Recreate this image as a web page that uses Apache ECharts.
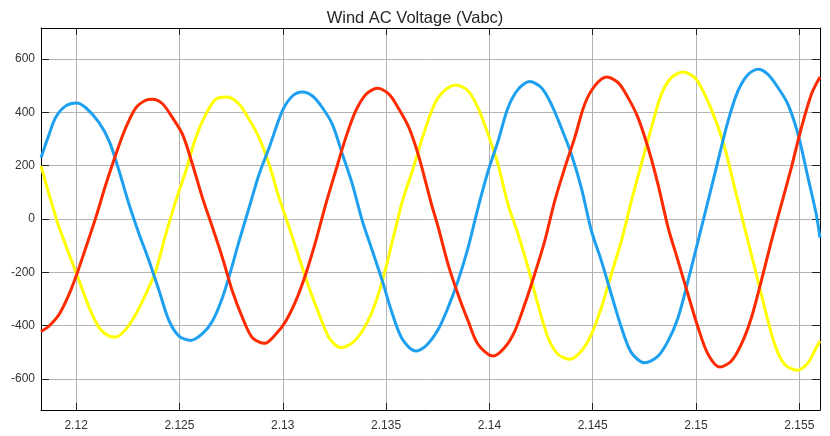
<!DOCTYPE html>
<html>
<head>
<meta charset="utf-8">
<script src="https://cdn.jsdelivr.net/npm/echarts@6/dist/echarts.min.js"></script>
<style>html,body{margin:0;padding:0;background:#fff}#c{width:830px;height:436px}</style>
</head>
<body>
<div id="c"></div>
<script>
const titleText = 'Wind AC Voltage (Vabc)';
const xTicks = [2.12, 2.125, 2.13, 2.135, 2.14, 2.145, 2.15, 2.155];
const yTicks = [-600, -400, -200, 0, 200, 400, 600];

const blueT = [2.1183,2.11869,2.11902,2.1195,2.12,2.12047,2.12111,2.1216,2.12208,2.12256,2.12305,2.12353,2.12402,2.1245,2.12498,2.12555,2.12611,2.1266,2.12708,2.12748,2.12789,2.12837,2.12885,2.12934,2.12998,2.13047,2.13095,2.13144,2.13192,2.1324,2.13289,2.13337,2.13385,2.13434,2.13482,2.13531,2.13579,2.13644,2.13692,2.13752,2.138,2.13848,2.13897,2.13945,2.13994,2.14042,2.1409,2.14139,2.14195,2.14252,2.143,2.14348,2.14397,2.14445,2.14494,2.14542,2.1459,2.14639,2.14687,2.14752,2.14816,2.14865,2.14913,2.14961,2.1501,2.15058,2.15106,2.15155,2.15203,2.15252,2.153,2.15348,2.15397,2.15445,2.15494,2.15542,2.15582,2.156];
const blueV = [230,317,382,424,435,417,361,292,180,55,-57,-157,-270,-382,-439,-455,-430,-382,-295,-195,-82,42,167,267,405,461,476,461,417,355,242,130,-7,-120,-232,-357,-451,-495,-476,-414,-332,-232,-107,42,180,292,417,486,515,492,430,342,242,117,-45,-157,-282,-407,-501,-539,-514,-457,-370,-232,-82,67,217,367,480,542,561,542,492,430,317,155,17,-70];

const redT = [2.1183,2.11869,2.11918,2.11966,2.12,2.12047,2.12095,2.12144,2.12192,2.1224,2.12289,2.12337,2.12369,2.12418,2.12466,2.12515,2.12563,2.12611,2.1266,2.12708,2.12756,2.12805,2.12853,2.12913,2.12966,2.13015,2.13063,2.13111,2.1316,2.13208,2.13256,2.13305,2.13353,2.13402,2.13458,2.13515,2.13563,2.13611,2.1366,2.13718,2.13752,2.138,2.13848,2.13897,2.13945,2.14018,2.14074,2.14123,2.14171,2.14219,2.14268,2.14316,2.14365,2.14413,2.14461,2.1451,2.14568,2.14623,2.14671,2.14719,2.14768,2.14816,2.14865,2.14913,2.14961,2.1501,2.15058,2.15116,2.15171,2.15219,2.15268,2.15316,2.15365,2.15413,2.15461,2.1551,2.15558,2.156];
const redV = [-422,-401,-357,-282,-214,-107,5,130,242,342,417,445,449,432,380,317,205,80,-32,-145,-270,-370,-445,-466,-432,-382,-307,-207,-82,55,180,305,405,467,490,467,411,342,230,60,-30,-170,-282,-382,-470,-514,-482,-420,-320,-207,-82,67,192,305,430,499,532,511,455,380,267,130,-32,-157,-282,-407,-507,-555,-532,-470,-370,-232,-82,55,192,342,467,532];

const yellowT = [2.1183,2.11869,2.11918,2.11966,2.12015,2.12063,2.12111,2.1216,2.12192,2.1224,2.12289,2.12337,2.12385,2.12434,2.12482,2.12531,2.12579,2.12627,2.12676,2.12732,2.12789,2.12837,2.12885,2.12934,2.12982,2.13031,2.13079,2.13127,2.13176,2.13224,2.13281,2.13337,2.13385,2.13434,2.13482,2.13531,2.13579,2.13627,2.13676,2.13718,2.13752,2.138,2.1384,2.13897,2.13945,2.13994,2.14042,2.1409,2.14139,2.14187,2.14235,2.14284,2.14332,2.14389,2.14445,2.14494,2.14542,2.1459,2.14639,2.14687,2.14735,2.14784,2.14832,2.14881,2.14937,2.14994,2.15042,2.1509,2.15139,2.15187,2.15235,2.15284,2.15332,2.15381,2.15429,2.1549,2.15542,2.15582,2.156];
const yellowV = [199,92,-32,-132,-232,-332,-407,-439,-442,-414,-357,-282,-195,-57,67,180,305,392,449,457,430,374,305,205,80,-32,-145,-257,-357,-445,-482,-464,-420,-345,-232,-82,67,180,305,400,455,492,502,480,417,317,205,55,-57,-182,-320,-445,-507,-526,-495,-432,-332,-207,-82,67,205,342,467,530,551,530,467,380,267,117,-32,-182,-332,-470,-545,-567,-539,-482,-457];

const zip = (t, v) => t.map((x, i) => [x, v[i]]);
const FONT = 'Liberation Sans, Arial, sans-serif';

function xAxisCfg(pos, showLabel) {
  return {
    type: 'value', position: pos, min: 2.1183, max: 2.156,
    axisLine: { show: true, onZero: false, lineStyle: { color: '#000', width: 1 } },
    axisTick: { show: true, inside: true, length: 7, customValues: xTicks, lineStyle: { color: '#222' } },
    axisLabel: { show: showLabel, customValues: xTicks, margin: 10, color: '#333', fontSize: 12, fontFamily: FONT },
    splitLine: { show: pos === 'bottom', lineStyle: { color: '#b4b4b4', width: 1 } }
  };
}
function yAxisCfg(pos, showLabel) {
  return {
    type: 'value', position: pos, min: -716, max: 716,
    axisLine: { show: true, onZero: false, lineStyle: { color: '#000', width: 1 } },
    axisTick: { show: true, inside: true, length: 8, customValues: yTicks, lineStyle: { color: '#222' } },
    axisLabel: { show: showLabel, customValues: yTicks, margin: 6, color: '#333', fontSize: 12, fontFamily: FONT },
    splitLine: { show: pos === 'left', lineStyle: { color: '#b4b4b4', width: 1 } }
  };
}

const chart = echarts.init(document.getElementById('c'), null, { renderer: 'canvas' });
chart.setOption({
  animation: false,
  backgroundColor: '#fff',
  title: { text: titleText, left: 'center', top: 5, textStyle: { fontSize: 16.5, fontWeight: 'normal', color: '#262626', fontFamily: FONT } },
  grid: { left: 41, right: 10, top: 28, bottom: 26 },
  xAxis: [xAxisCfg('bottom', true), xAxisCfg('top', false)],
  yAxis: [yAxisCfg('left', true), yAxisCfg('right', false)],
  series: [
    { name: 'Va', type: 'line', data: zip(yellowT, yellowV), showSymbol: false, smooth: 0.3, lineStyle: { color: '#ffff00', width: 3 } },
    { name: 'Vb', type: 'line', data: zip(blueT, blueV), showSymbol: false, smooth: 0.3, lineStyle: { color: '#1ea0f0', width: 3 } },
    { name: 'Vc', type: 'line', data: zip(redT, redV), showSymbol: false, smooth: 0.3, lineStyle: { color: '#ff2a00', width: 3 } }
  ]
});
</script>
</body>
</html>
